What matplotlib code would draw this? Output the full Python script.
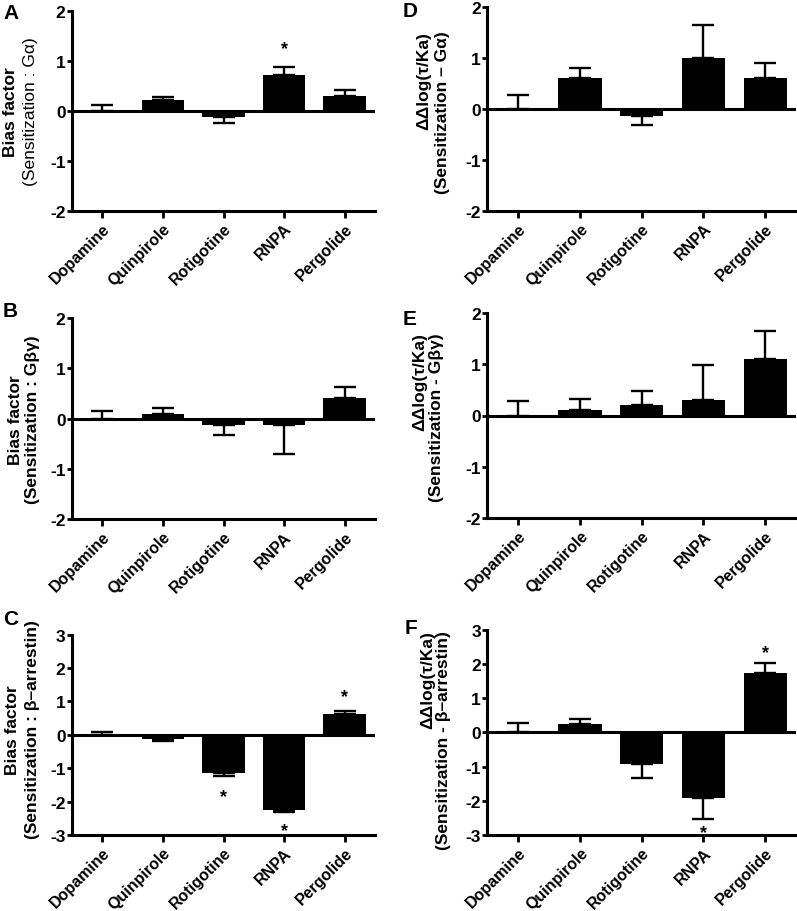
import matplotlib
matplotlib.use("Agg")
import matplotlib.pyplot as plt
import matplotlib.transforms as mtransforms
import numpy as np

plt.rcParams["font.family"] = ["Liberation Sans", "DejaVu Sans"]

categories = ["Dopamine", "Quinpirole", "Rotigotine", "RNPA", "Pergolide"]

# bar heights and one-sided errors (SEM)
aVals = [0.0, 0.21, -0.12, 0.71, 0.30]
aErr = [0.11, 0.07, 0.13, 0.16, 0.12]
bVals = [0.0, 0.10, -0.12, -0.12, 0.41]
bErr = [0.15, 0.12, 0.21, 0.59, 0.22]
cVals = [0.0, -0.12, -1.14, -2.24, 0.61]
cErr = [0.10, 0.06, 0.10, 0.08, 0.11]
dVals = [0.0, 0.61, -0.13, 1.00, 0.61]
dErr = [0.27, 0.20, 0.19, 0.66, 0.29]
eVals = [0.0, 0.10, 0.21, 0.31, 1.11]
eErr = [0.29, 0.23, 0.26, 0.68, 0.54]
fVals = [0.0, 0.23, -0.92, -1.92, 1.72]
fErr = [0.27, 0.16, 0.42, 0.62, 0.32]

# significance stars: (category index, y of star)
aStars = [(3, 1.33)]
bStars = []
cStars = [(2, -1.70), (3, -2.72), (4, 1.28)]
dStars = []
eStars = []
fStars = [(3, -2.80), (4, 2.45)]

yLabel1Left = "Bias factor"
yLabel1Right = "ΔΔlog(τ/Ka)"

W, H = 797, 912
fig = plt.figure(figsize=(W / 100, H / 100), dpi=100)


def px_axes(left, top, right, bottom):
    return fig.add_axes([left / W, 1 - bottom / H, (right - left) / W, (bottom - top) / H])


def draw_panel(ax, vals, err, stars, ylim, yticks, letter, line1, line2, lab, line2weight="bold"):
    x = np.arange(len(categories))
    vals = np.array(vals)
    err = np.array(err)
    lower = np.where(vals < 0, err, 0)
    upper = np.where(vals >= 0, err, 0)
    ax.errorbar(x, vals, yerr=[lower, upper], fmt="none", ecolor="black",
                elinewidth=1.7, capsize=8, capthick=1.7, zorder=1)
    ax.bar(x, vals, width=0.7, color="black", zorder=2)
    ax.axhline(0, color="black", lw=2.2, zorder=3)
    for i, yv in stars:
        ax.annotate("*", xy=(i, yv), xytext=(0, -6.5), textcoords="offset points",
                    ha="center", va="baseline", fontsize=13, fontweight="bold")
    ax.set_xlim(-0.5, 4.5)
    ax.set_ylim(*ylim)
    ax.set_yticks(yticks)
    ax.set_yticklabels([str(t) for t in yticks], fontsize=12.5, fontweight="bold")
    ax.set_xticks(x)
    ax.set_xticklabels(categories, rotation=45, ha="right", va="top",
                       rotation_mode="anchor", fontsize=11.5, fontweight="bold")
    shift = mtransforms.ScaledTranslation(0.04, 0, fig.dpi_scale_trans)
    for t in ax.get_xticklabels():
        t.set_transform(t.get_transform() + shift)
    for s in ["top", "right"]:
        ax.spines[s].set_visible(False)
    for s in ["left", "bottom"]:
        ax.spines[s].set_linewidth(2.2)
    ax.tick_params(axis="y", length=3.6, width=2.0, pad=1)
    ax.tick_params(axis="x", length=5, width=2.0, pad=2)

    # two line y label, placed by pixel offsets from the axis
    (x1, x2, yf, va) = lab
    ax.annotate(line1, xy=(0, yf), xycoords="axes fraction", xytext=(x1 * 0.72, 0),
                textcoords="offset points", rotation=90, ha="center", va=va,
                fontsize=12.5, fontweight="bold")
    ax.annotate(line2, xy=(0, yf), xycoords="axes fraction", xytext=(x2 * 0.72, 0),
                textcoords="offset points", rotation=90, ha="center", va=va,
                fontsize=12.5, fontweight=line2weight)

    fig.text(letter[1] / W, 1 - letter[2] / H, letter[0], fontsize=15,
             fontweight="bold", ha="left", va="top")


axA = px_axes(72, 11.7, 375, 211.7)
axB = px_axes(72, 319.3, 375, 520)
axC = px_axes(72, 635.7, 375, 836)
axD = px_axes(487.5, 8.3, 796, 211.7)
axE = px_axes(487.5, 314, 796, 519)
axF = px_axes(487.5, 630.7, 796, 836)

draw_panel(axA, aVals, aErr, aStars, (-2, 2), [-2, -1, 0, 1, 2], ("A", 3, 4),
           yLabel1Left, "(Sensitization : Gα)", (-61, -41, 0.5, "center"), line2weight="normal")
draw_panel(axB, bVals, bErr, bStars, (-2, 2), [-2, -1, 0, 1, 2], ("B", 3, 302),
           yLabel1Left, "(Sensitization : Gβγ)", (-56, -39, 0.5, "center"))
draw_panel(axC, cVals, cErr, cStars, (-3, 3), [-3, -2, -1, 0, 1, 2, 3], ("C", 3, 610),
           yLabel1Left, "(Sensitization : β–arrestin)", (-60, -40, 0.53, "center"))
draw_panel(axD, dVals, dErr, dStars, (-2, 2), [-2, -1, 0, 1, 2], ("D", 403, 2),
           yLabel1Right, "(Sensitization – Gα)", (-64, -45, 0.885, "top"))
draw_panel(axE, eVals, eErr, eStars, (-2, 2), [-2, -1, 0, 1, 2], ("E", 403, 310),
           yLabel1Right, "(Sensitization - Gβγ)", (-68, -51, 0.907, "top"))
draw_panel(axF, fVals, fErr, fStars, (-3, 3), [-3, -2, -1, 0, 1, 2, 3], ("F", 405, 619),
           yLabel1Right, "(Sensitization - β–arrestin)", (-60, -44, 0.998, "top"))

fig.savefig("out.png", dpi=100)
